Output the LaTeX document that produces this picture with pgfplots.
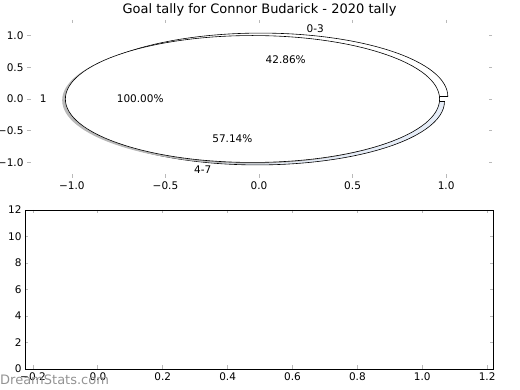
\documentclass[border=0pt]{standalone}
\usepackage{fontspec}
\setmainfont{DejaVu Sans}
\usepackage{pgfplots}
\pgfplotsset{compat=1.18}
\definecolor{pieblue}{HTML}{E6EDF8}
\begin{document}
\begin{tikzpicture}[font=\fontsize{10.5}{12.5}\selectfont]
\path[use as bounding box] (0,0) rectangle (520pt,-390pt);
% data: goal counts per bin (pie 2) and total (pie 1)
\def\pa{3}\def\pb{4}\def\pone{1}
\pgfmathsetmacro{\tot}{\pa+\pb}
\pgfmathsetmacro{\angA}{360*\pa/\tot}
\pgfmathsetmacro{\midA}{\angA/2}
\pgfmathsetmacro{\midB}{(\angA+360)/2}
\def\ex{0.04}
\pgfmathsetmacro{\cAx}{\ex*cos(\midA)}
\pgfmathsetmacro{\cAy}{\ex*sin(\midA)}
\pgfmathsetmacro{\cBx}{\ex*cos(\midB)}
\pgfmathsetmacro{\cBy}{\ex*sin(\midB)}
\pgfmathsetmacro{\lAx}{\cAx+1.1*cos(\midA)}
\pgfmathsetmacro{\lAy}{\cAy+1.1*sin(\midA)}
\pgfmathsetmacro{\lBx}{\cBx+1.1*cos(\midB)}
\pgfmathsetmacro{\lBy}{\cBy+1.1*sin(\midB)}
\pgfmathsetmacro{\pAx}{\cAx+0.6*cos(\midA)}
\pgfmathsetmacro{\pAy}{\cAy+0.6*sin(\midA)}
\pgfmathsetmacro{\pBx}{\cBx+0.6*cos(\midB)}
\pgfmathsetmacro{\pBy}{\cBy+0.6*sin(\midB)}
\def\xr{187.12pt}\def\yr{63.45pt}
\begin{axis}[
  at={(27pt,-20pt)}, anchor=north west, scale only axis,
  width=465pt, height=158pt,
  xmin=-1.24, xmax=1.245, ymin=-1.245, ymax=1.245,
  axis line style={draw=none},
  tick align=inside, major tick length=3.5pt,
  tick style={gray!55, line width=0.8pt},
  xtick={-1,-0.5,0,0.5,1},
  xticklabels={−1.0,−0.5,0.0,0.5,1.0},
  ytick={-1,-0.5,0,0.5,1},
  yticklabels={−1.0,−0.5,0.0,0.5,1.0},
  clip=false,
]
% pie 2 (exploded wedges)
\filldraw[fill=white, draw=black, line width=0.6pt] (axis cs:\cAx,\cAy) -- ++({\xr*cos(0)},{\yr*sin(0)}) arc[start angle=0, end angle=\angA, x radius=\xr, y radius=\yr] -- cycle;
\filldraw[fill=pieblue, draw=black, line width=0.6pt] (axis cs:\cBx,\cBy) -- ++({\xr*cos(\angA)},{\yr*sin(\angA)}) arc[start angle=\angA, end angle=360, x radius=\xr, y radius=\yr] -- cycle;
% pie 1 (single wedge with shadow)
\fill[gray!55] (axis cs:-0.052,-0.02) ellipse[x radius=\xr, y radius=\yr];
\filldraw[fill=white, draw=black, line width=0.6pt] (axis cs:-0.035,0) ellipse[x radius=\xr, y radius=\yr];
\node[anchor=east, inner sep=0pt] at (axis cs:-1.135,0) {1};
\node at (axis cs:-0.635,0) {100.00\%};
\node[anchor=west, inner sep=0pt] at (axis cs:\lAx,\lAy) {0-3};
\node[anchor=east, inner sep=0pt] at (axis cs:\lBx,\lBy) {4-7};
\node at (axis cs:\pAx,\pAy) {42.86\%};
\node at (axis cs:\pBx,\pBy) {57.14\%};
\end{axis}
\node[font=\fontsize{13}{15}\selectfont] at (259.5pt,-10pt) {Goal tally for Connor Budarick - 2020 tally};
\begin{axis}[
  at={(25pt,-210pt)}, anchor=north west, scale only axis,
  width=468pt, height=159pt,
  xmin=-0.2246, xmax=1.218, ymin=0, ymax=12,
  axis line style={black, line width=0.8pt},
  tick align=inside, major tick length=3.5pt,
  tick style={gray!55, line width=0.8pt},
  xtick={-0.2,0,0.2,0.4,0.6,0.8,1.0,1.2},
  xticklabels={−0.2,0.0,0.2,0.4,0.6,0.8,1.0,1.2},
  ytick={0,2,4,6,8,10,12},
  yticklabels={0,2,4,6,8,10,12},
]
\end{axis}
\node[anchor=west, text=gray!85, font=\fontsize{13}{15}\selectfont, inner sep=0pt] at (0pt,-380pt) {DreamStats.com};
\end{tikzpicture}
\end{document}
